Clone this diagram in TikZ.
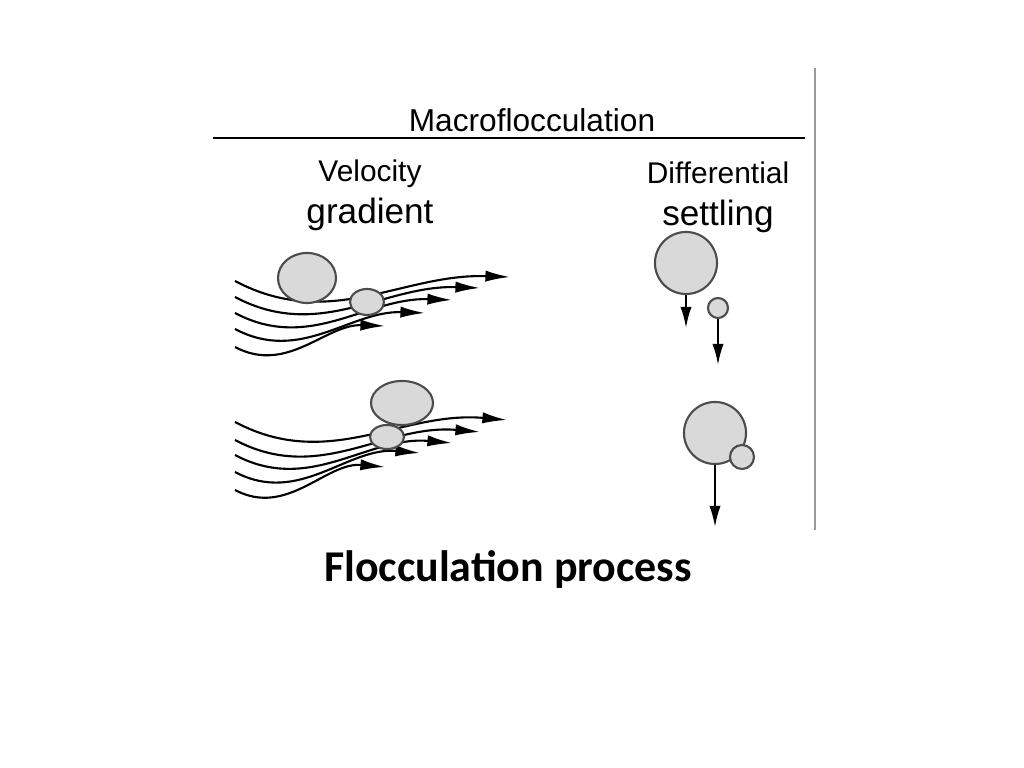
\documentclass[tikz,border=0pt]{standalone}
\usepackage{fontspec}
\setmainfont{Liberation Sans}
\newfontfamily\capfont{Carlito}
\usetikzlibrary{arrows.meta,shapes.geometric}
\tikzset{
  floc/.style={draw=black!70, fill=black!15, semithick, inner sep=0},
  flow/.style={semithick, -{Latex[length=7pt,width=3.2pt]}},
  fall/.style={semithick, -{Latex[length=6pt,width=3.2pt]}}
}
\begin{document}
\begin{tikzpicture}[x=0.01cm,y=-0.01cm]
  \useasboundingbox (0,0) rectangle (1024,768);
  % header
  \node (head) at (532,120) {\fontsize{9}{11}\selectfont Macroflocculation};
  \draw[semithick] (213,138) -- (805,138);
  \draw[black!40] (815,68) -- (815,530);
  \node[align=center] (vel) at (370,195) {\fontsize{8.5}{9}\selectfont Velocity\\ gradient};
  \node[align=center] (dif) at (718,197) {\fontsize{8.5}{9}\selectfont Differential\\ settling};
  % velocity gradient, before
  \foreach \ys/\xe/\ye in {281/510/277, 297/480/288, 313/452/300, 329/425/313, 347/385/326}
    \draw[flow] (235,\ys) to[out=-28,in=178] (\xe,\ye);
  \node[floc, ellipse, minimum width=0.58cm, minimum height=0.5cm] (big1) at (307,278) {};
  \node[floc, ellipse, minimum width=0.34cm, minimum height=0.26cm] (small1) at (367,302) {};
  % velocity gradient, after
  \foreach \ys/\xe/\ye in {422/507/420, 440/480/432, 455/452/443, 472/420/453, 490/385/467}
    \draw[flow] (235,\ys) to[out=-28,in=175] (\xe,\ye);
  \node[floc, ellipse, minimum width=0.62cm, minimum height=0.44cm] (big2) at (402,403) {};
  \node[floc, ellipse, minimum width=0.34cm, minimum height=0.24cm] (small2) at (387,437) {};
  % differential settling
  \node[floc, circle, minimum size=0.62cm] (big3) at (686,263) {};
  \node[floc, circle, minimum size=0.2cm] (small3) at (718,308) {};
  \coordinate (e3) at (686,328);
  \coordinate (e4) at (718,365);
  \draw[fall] (big3.south) -- (e3);
  \draw[fall] (small3.south) -- (e4);
  \node[floc, circle, minimum size=0.62cm] (big4) at (715,433) {};
  \node[floc, circle, minimum size=0.24cm] (small4) at (742,457) {};
  \coordinate (e5) at (715,527);
  \draw[fall] (big4.south) -- (e5);
  % caption
  \node (cap) at (508,570) {\capfont\bfseries\fontsize{12.5}{14}\selectfont Flocculation process};
\end{tikzpicture}
\end{document}
